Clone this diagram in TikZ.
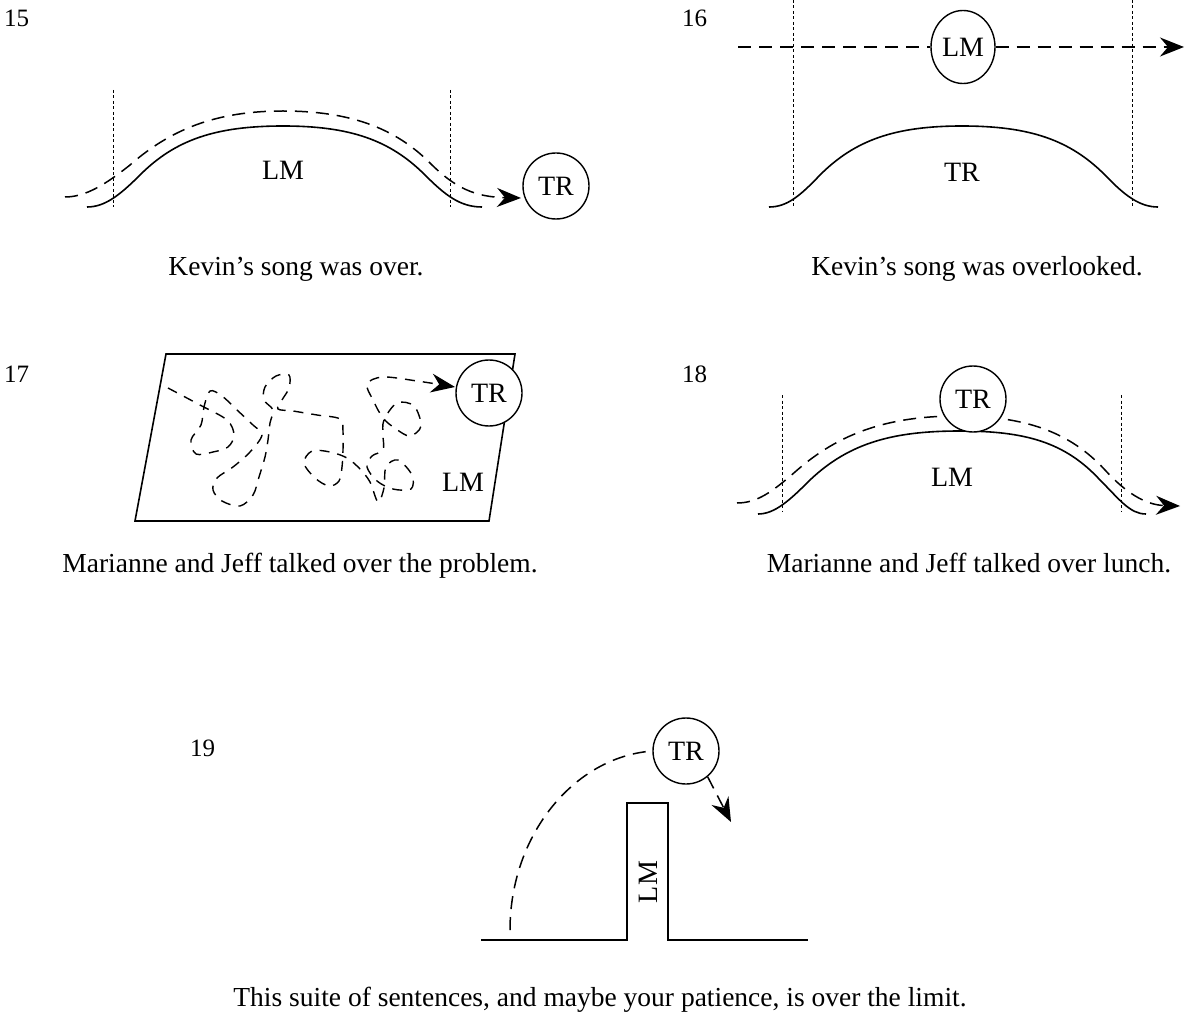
\documentclass[tikz,border=0pt]{standalone}
\usepackage{fontspec}
\setmainfont{Liberation Serif}
\usetikzlibrary{arrows.meta,shapes.geometric}
\begin{document}
\begin{tikzpicture}[x=1pt,y=-1pt,
  solidline/.style={line width=1.6pt},
  dashline/.style={line width=1.5pt, dash pattern=on 13pt off 8pt},
  scribble/.style={line width=1.4pt, dash pattern=on 10pt off 8pt},
  dotline/.style={line width=1pt, dash pattern=on 3pt off 2.5pt},
  tip/.style={-{Stealth[length=24pt,width=19pt,inset=8pt]}},
  circ/.style={circle, draw, line width=1.4pt, fill=white, minimum size=66pt, inner sep=0pt, font=\fontsize{28}{31}\selectfont},
  ell/.style={ellipse, draw, line width=1.4pt, fill=white, minimum width=64pt, minimum height=73pt, inner sep=0pt, font=\fontsize{28}{31}\selectfont},
  lab/.style={font=\fontsize{28}{31}\selectfont, inner sep=0pt},
  captext/.style={font=\fontsize{27.5}{31}\selectfont, inner sep=0pt, anchor=base},
  num/.style={font=\fontsize{25}{27}\selectfont, inner sep=0pt, anchor=base west}]
\useasboundingbox (0,0) rectangle (1200,1016);

% ---------- 15 ----------
\node[num] (n15) at (4,27) {15};
\draw[dotline] (113,90) -- (113,207);
\draw[dotline] (450,90) -- (450,207);
\draw[solidline] (87,207) .. controls (105,207) and (120,195) .. (140,175)
  .. controls (175,140) and (215,126) .. (283,126)
  .. controls (350,126) and (390,140) .. (425,175)
  .. controls (445,195) and (460,207) .. (482,207);
\draw[dashline,tip] (65,197) .. controls (85,197) and (105,185) .. (130,165)
  .. controls (170,130) and (215,111) .. (283,111)
  .. controls (350,111) and (395,128) .. (430,163)
  .. controls (455,188) and (475,197) .. (521,198);
\node[lab] (lm15) at (283,170) {LM};
\node[circ] (tr15) at (556,186) {TR};
\node[captext] (c15) at (296,276) {Kevin’s song was over.};

% ---------- 16 ----------
\node[num] (n16) at (682,27) {16};
\draw[dotline] (793,0) -- (793,207);
\draw[dotline] (1132,0) -- (1132,207);
\node[ell] (lm16) at (963,47) {LM};
\coordinate (s16) at (738,47);
\coordinate (e16) at (1184,47);
\draw[dashline] (s16) -- (lm16.west);
\draw[dashline,tip] (lm16.east) -- (e16);
\draw[solidline] (769,207) .. controls (787,207) and (800,196) .. (820,175)
  .. controls (855,140) and (895,126) .. (962,126)
  .. controls (1030,126) and (1070,140) .. (1105,175)
  .. controls (1125,196) and (1140,207) .. (1158,207);
\node[lab] (tr16) at (962,172) {TR};
\node[captext] (c16) at (977,276) {Kevin’s song was overlooked.};

% ---------- 17 ----------
\node[num] (n17) at (4,383) {17};
\draw[solidline] (166,354) -- (515,354) -- (489,521) -- (135,521) -- cycle;
\draw[scribble,tip] plot[smooth,tension=0.55] coordinates {
  (168,388) (200,405) (227,420) (234,435) (228,447) (213,452) (196,454) (191,440)
  (201,425) (204,407) (210,391) (222,396) (237,410) (253,425) (262,435) (250,452)
  (233,467) (217,478) (213,490) (222,501) (240,506) (253,495) (259,477) (265,457)
  (268,440) (270,423) (273,410) (264,400) (265,387) (276,376) (289,375) (289,388)
  (282,400) (278,409) (293,411) (317,415) (340,419) (343,432) (343,450) (342,467)
  (339,481) (329,486) (315,478) (304,463) (312,451) (330,452) (347,458) (360,469)
  (370,482) (378,502) (384,488) (386,467) (398,460) (412,475) (411,489) (393,489)
  (377,481) (367,467) (372,456) (383,450) (383,435) (384,420) (397,403) (414,406)
  (421,426) (410,436) (396,429) (383,418) (373,400) (367,384) (383,377) (417,381)
  (455,387)};
\node[circ] (tr17) at (489,393) {TR};
\node[lab] (lm17) at (463,482) {LM};
\node[captext] (c17) at (300,572) {Marianne and Jeff talked over the problem.};

% ---------- 18 ----------
\node[num] (n18) at (682,383) {18};
\draw[dotline] (782,395) -- (782,512);
\draw[dotline] (1121,395) -- (1121,512);
\draw[solidline] (758,514) .. controls (775,514) and (790,500) .. (810,480)
  .. controls (850,442) and (895,431) .. (960,431)
  .. controls (1025,431) and (1065,442) .. (1100,480)
  .. controls (1120,500) and (1130,514) .. (1146,514);
\draw[dashline,tip] (737,503) .. controls (757,503) and (772,492) .. (795,472)
  .. controls (840,432) and (890,416) .. (958,416)
  .. controls (1025,416) and (1070,432) .. (1105,470)
  .. controls (1125,492) and (1145,505) .. (1180,506);
\node[circ] (tr18) at (973,399) {TR};
\node[lab] (lm18) at (952,477) {LM};
\node[captext] (c18) at (969,572) {Marianne and Jeff talked over lunch.};

% ---------- 19 ----------
\node[num] (n19) at (190,756) {19};
\draw[solidline] (481,940) -- (627,940) -- (627,803) -- (668,803) -- (668,940) -- (808,940);
\node[lab,rotate=90] (lm19) at (648,882) {LM};
\node[circ] (tr19) at (686,751) {TR};
\coordinate (a19) at (510,930);
\coordinate (b19) at (731,822);
\draw[dashline] (a19) .. controls (510,835) and (574,757) .. (tr19.west);
\draw[dashline,tip] (tr19.-50) -- (b19);
\node[captext] (c19) at (600,1006) {This suite of sentences, and maybe your patience, is over the limit.};
\end{tikzpicture}
\end{document}
